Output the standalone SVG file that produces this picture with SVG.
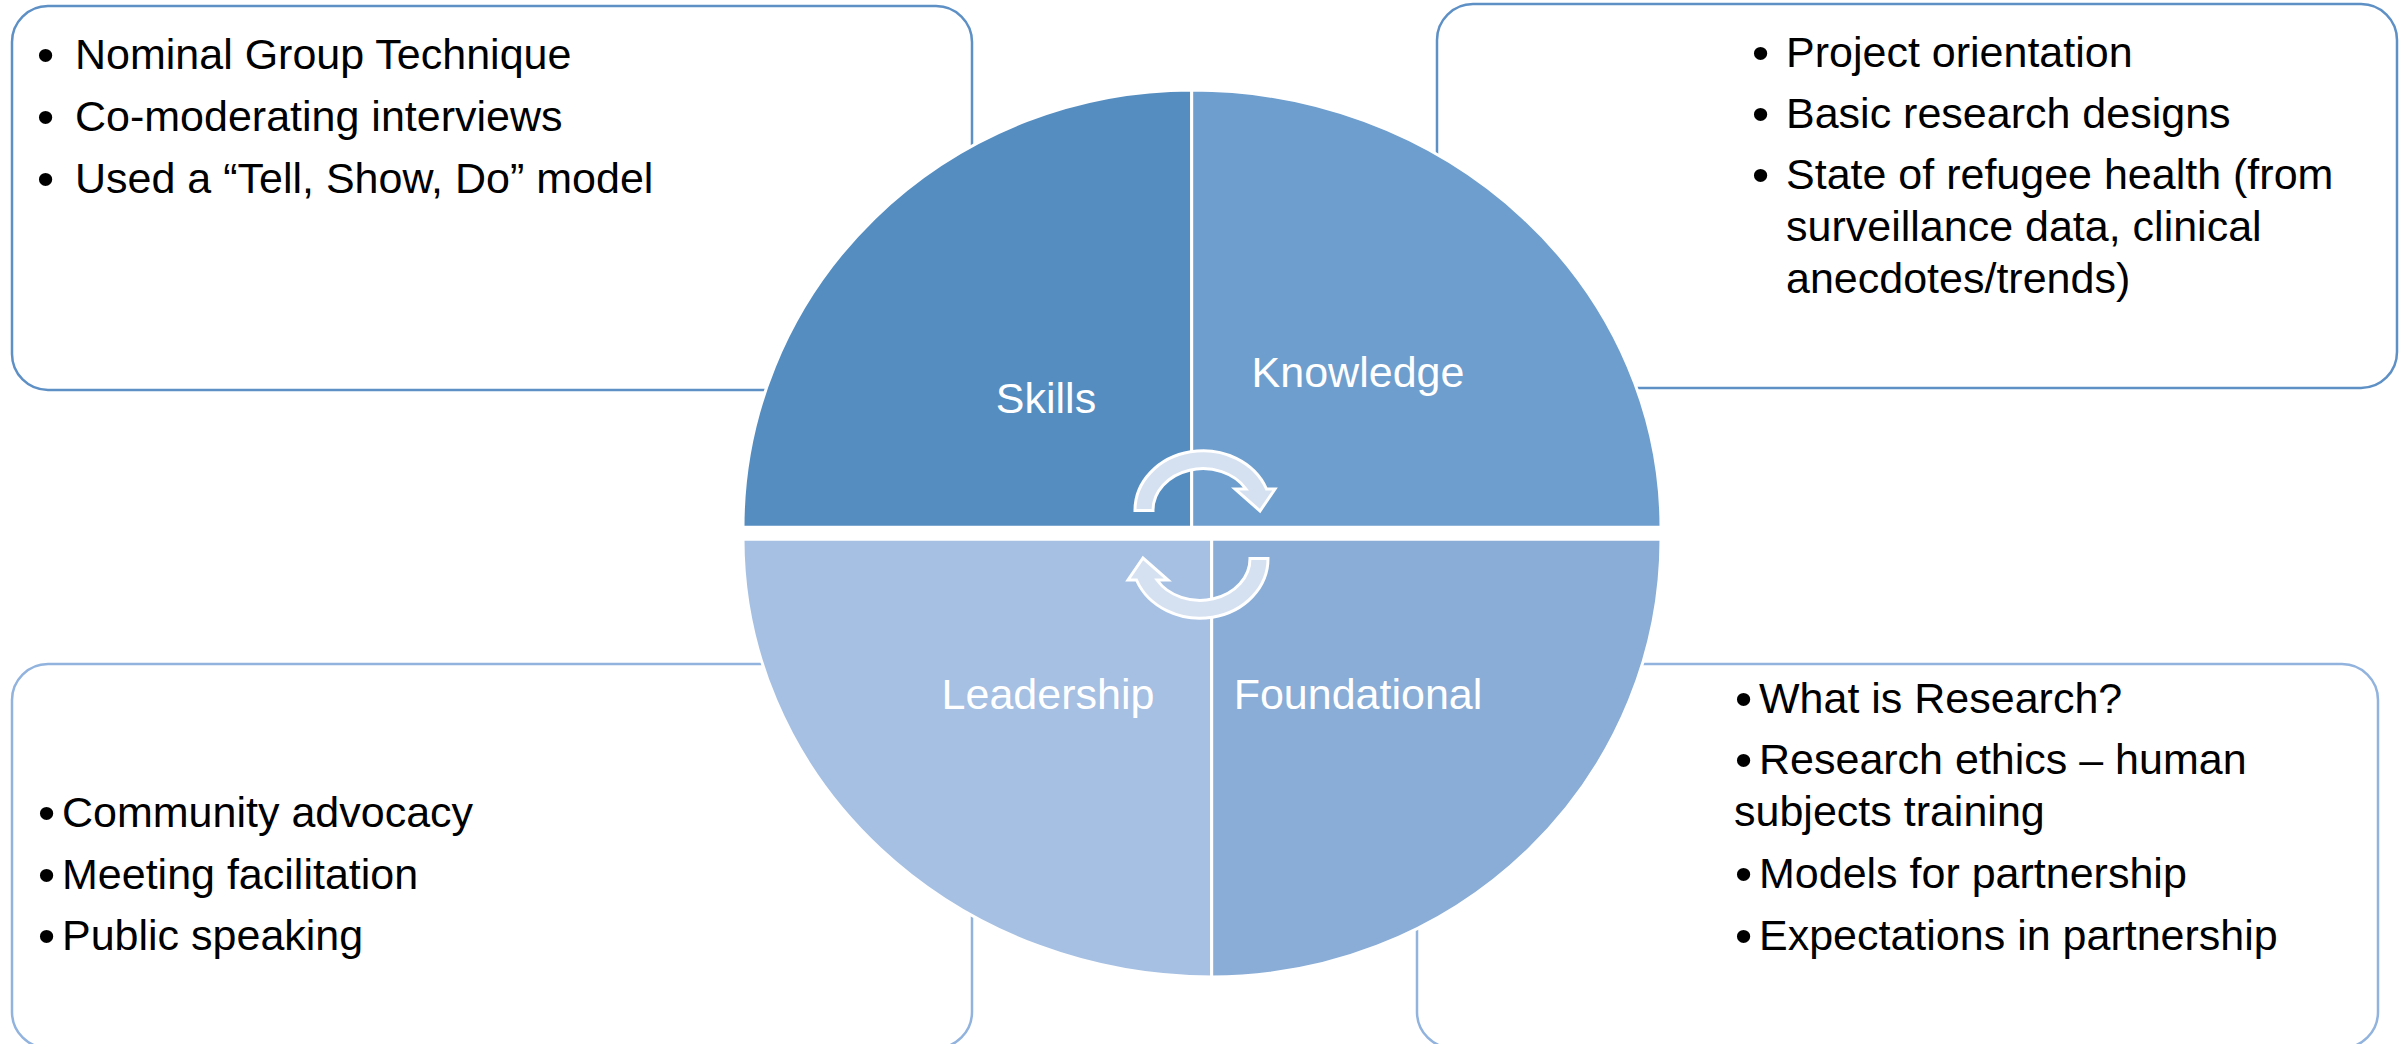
<svg xmlns="http://www.w3.org/2000/svg" width="2408" height="1044" viewBox="0 0 2408 1044">
  <style>
    .box { fill: #ffffff; stroke-width: 2.5; }
    .box-top { stroke: #5E90C6; }
    .box-bot { stroke: #91B3DE; }
    .txt { font-family: "Liberation Sans", Arial, sans-serif; font-size: 43px; fill: #000000; }
    .bul { font-size: 49px; }
    .lbl { font-family: "Liberation Sans", Arial, sans-serif; font-size: 43px; fill: #ffffff; text-anchor: middle; }
    .quad { stroke: #ffffff; stroke-width: 3; }
    .cyc { fill: #D5E0F0; stroke: #ffffff; stroke-width: 3; stroke-linejoin: miter; }
  </style>
  <rect x="0" y="0" width="2408" height="1044" fill="#ffffff"/>

  <g id="box-skills">
    <rect class="box box-top" x="12" y="6" width="960" height="384" rx="36" ry="36"/>
    <text class="txt"><tspan class="bul" x="37" y="71">•</tspan><tspan x="75" y="69">Nominal Group Technique</tspan></text>
    <text class="txt"><tspan class="bul" x="37" y="133">•</tspan><tspan x="75" y="131">Co-moderating interviews</tspan></text>
    <text class="txt"><tspan class="bul" x="37" y="195">•</tspan><tspan x="75" y="193">Used a “Tell, Show, Do” model</tspan></text>
  </g>

  <g id="box-knowledge">
    <rect class="box box-top" x="1437" y="4" width="960" height="384" rx="36" ry="36"/>
    <text class="txt"><tspan class="bul" x="1752" y="69">•</tspan><tspan x="1786" y="67">Project orientation</tspan></text>
    <text class="txt"><tspan class="bul" x="1752" y="130">•</tspan><tspan x="1786" y="128">Basic research designs</tspan></text>
    <text class="txt"><tspan class="bul" x="1752" y="191">•</tspan><tspan x="1786" y="189">State of refugee health (from</tspan></text>
    <text class="txt" x="1786" y="241">surveillance data, clinical</text>
    <text class="txt" x="1786" y="293">anecdotes/trends)</text>
  </g>

  <g id="box-leadership">
    <rect class="box box-bot" x="12" y="664" width="960" height="384" rx="36" ry="36"/>
    <text class="txt"><tspan class="bul" x="38" y="829">•</tspan><tspan x="62" y="827">Community advocacy</tspan></text>
    <text class="txt"><tspan class="bul" x="38" y="891">•</tspan><tspan x="62" y="889">Meeting facilitation</tspan></text>
    <text class="txt"><tspan class="bul" x="38" y="952">•</tspan><tspan x="62" y="950">Public speaking</tspan></text>
  </g>

  <g id="box-foundational">
    <rect class="box box-bot" x="1417" y="664" width="961" height="384" rx="36" ry="36"/>
    <text class="txt"><tspan class="bul" x="1735" y="715">•</tspan><tspan x="1759" y="713">What is Research?</tspan></text>
    <text class="txt"><tspan class="bul" x="1735" y="776">•</tspan><tspan x="1759" y="774">Research ethics – human</tspan></text>
    <text class="txt" x="1734" y="826">subjects training</text>
    <text class="txt"><tspan class="bul" x="1735" y="890">•</tspan><tspan x="1759" y="888">Models for partnership</tspan></text>
    <text class="txt"><tspan class="bul" x="1735" y="952">•</tspan><tspan x="1759" y="950">Expectations in partnership</tspan></text>
  </g>

  <g id="node-skills">
    <path class="quad" fill="#558DC1" d="M1191.7,527.3 L743,527.3 A448.7,437.3 0 0 1 1191.7,90 Z"/>
    <text class="lbl" x="1046" y="413">Skills</text>
  </g>
  <g id="node-knowledge">
    <path class="quad" fill="#6E9ECD" d="M1191.7,527.3 L1191.7,90 A469.3,437.3 0 0 1 1661,527.3 Z"/>
    <text class="lbl" x="1358" y="387">Knowledge</text>
  </g>
  <g id="node-leadership">
    <path class="quad" fill="#A5C0E3" d="M1211.7,539.3 L1211.7,977 A468.7,437.7 0 0 1 743,539.3 Z"/>
    <text class="lbl" x="1048" y="709">Leadership</text>
  </g>
  <g id="node-foundational">
    <path class="quad" fill="#89ADD6" d="M1211.7,539.3 L1661,539.3 A449.3,437.7 0 0 1 1211.7,977 Z"/>
    <text class="lbl" x="1358" y="709">Foundational</text>
  </g>

  <g id="connectors">
    <path id="cycle-top" class="cyc" d="M1135,510.5 A68,59.5 0 0 1 1266.5,489 L1275,489 L1260,511 L1235,489 L1246,489 A50,41.5 0 0 0 1153,510.5 Z"/>
    <path id="cycle-bottom" class="cyc" transform="rotate(180 1201.5 534.5)" d="M1135,510.5 A68,59.5 0 0 1 1266.5,489 L1275,489 L1260,511 L1235,489 L1246,489 A50,41.5 0 0 0 1153,510.5 Z"/>
  </g>
</svg>
